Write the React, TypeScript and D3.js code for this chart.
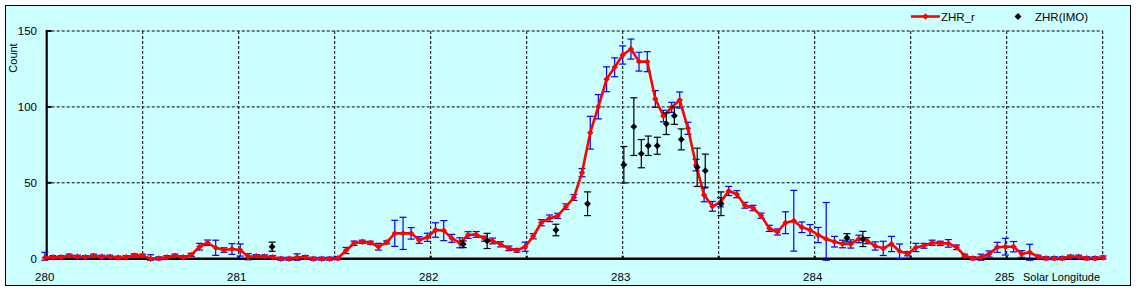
import React from 'react';
import * as d3 from 'd3';

// Solar longitude of each hourly ZHR_r value
const zhrSL = [
  279.990, 280.032, 280.075, 280.117, 280.160, 280.202, 280.244, 280.287, 280.329, 280.372,
  280.414, 280.456, 280.499, 280.541, 280.584, 280.626, 280.668, 280.711, 280.753, 280.796,
  280.838, 280.880, 280.923, 280.965, 281.008, 281.050, 281.092, 281.135, 281.177, 281.220,
  281.262, 281.304, 281.347, 281.389, 281.432, 281.474, 281.516, 281.559, 281.601, 281.644,
  281.686, 281.728, 281.771, 281.813, 281.856, 281.898, 281.940, 281.983, 282.025, 282.068,
  282.110, 282.152, 282.195, 282.237, 282.280, 282.322, 282.364, 282.407, 282.449, 282.492,
  282.534, 282.576, 282.619, 282.661, 282.704, 282.746, 282.788, 282.831, 282.873, 282.916,
  282.958, 283.000, 283.043, 283.085, 283.128, 283.170, 283.212, 283.255, 283.297, 283.340,
  283.382, 283.424, 283.467, 283.509, 283.552, 283.594, 283.636, 283.679, 283.721, 283.764,
  283.806, 283.848, 283.891, 283.933, 283.976, 284.018, 284.060, 284.103, 284.145, 284.188,
  284.230, 284.272, 284.315, 284.357, 284.400, 284.442, 284.484, 284.527, 284.569, 284.612,
  284.654, 284.696, 284.739, 284.781, 284.824, 284.866, 284.908, 284.951, 284.993, 285.036,
  285.078, 285.120, 285.163, 285.205, 285.248, 285.290, 285.332, 285.375, 285.417, 285.460,
  285.502,
];

const zhrR = [
  0.7, 1.0, 1.0, 2.0, 1.3, 1.0, 2.0, 1.3, 1.3, 0.7,
  1.0, 2.2, 2.0, 0.0, 0.2, 1.0, 2.0, 1.0, 2.5, 7.9,
  10.5, 7.2, 5.7, 6.4, 5.7, 1.3, 1.7, 1.5, 1.0, 0.0,
  0.0, 1.0, 1.0, 0.0, 0.0, 0.0, 0.3, 5.4, 10.2, 11.2,
  10.5, 7.9, 10.8, 16.7, 16.7, 16.7, 12.3, 14.1, 18.9, 18.5,
  13.4, 10.5, 15.6, 16.0, 13.2, 11.7, 9.5, 6.8, 5.5, 7.9,
  14.8, 23.7, 26.6, 28.2, 34.3, 40.3, 56.7, 83.0, 100.1, 118.2,
  126.1, 134.2, 138.1, 129.8, 129.8, 105.2, 94.0, 99.7, 104.5, 85.9,
  61.7, 42.0, 34.5, 37.2, 44.6, 42.5, 35.2, 33.4, 28.3, 20.0,
  17.6, 23.7, 25.0, 20.7, 18.9, 15.6, 13.0, 11.2, 9.7, 9.7,
  13.0, 11.9, 8.4, 6.8, 9.7, 4.9, 3.3, 7.4, 8.5, 10.5,
  10.1, 10.1, 7.5, 2.0, 0.3, 1.0, 3.1, 7.5, 7.9, 7.9,
  3.1, 4.2, 1.3, 0.3, 0.3, 0.3, 1.3, 1.3, 0.3, 0.3,
  0.8,
];

const zhrErr = [
  3.5, 1, 1, 1, 1, 1, 1, 1, 1, 1,
  1, 1, 1, 2.6, 1, 1, 1, 1, 1, 2.2,
  1.8, 5, 1.5, 3.5, 4, 2, 1, 1, 1, 1,
  1, 2.2, 1, 1, 1, 1, 1, 2, 1.4, 1,
  1, 2.2, 1, 8.6, 10.6, 3.8, 2.2, 2.7, 4.8, 6.6,
  2.6, 3.3, 2.2, 1.9, 1.7, 1.9, 1.7, 1.5, 1.2, 3,
  1.7, 2, 2.2, 1.7, 1.8, 1.9, 2.7, 10.8, 8, 8.2,
  6.2, 6, 6.6, 6.2, 6.6, 5.5, 3.8, 3.3, 5.3, 4,
  3.8, 4.5, 3.2, 3, 3, 2.3, 1.9, 1.8, 1.7, 2,
  2, 7.2, 20, 3.5, 3.6, 5, 24, 3.5, 2.5, 2.7,
  2.5, 2, 2.7, 4.7, 5, 4.8, 1.4, 2.7, 1.6, 1.7,
  1.4, 2.5, 1.5, 1, 1, 2, 2, 3.3, 5.5, 3.4,
  2.2, 5.3, 1, 1, 1, 1, 1, 1, 1, 1,
  1,
];

const imoSL = [281.174, 282.169, 282.294, 282.652, 282.817, 283.006, 283.058, 283.097, 283.133,
  283.180, 283.227, 283.269, 283.305, 283.388, 283.430, 283.512, 284.168, 284.251];
const imoZHR = [7.9, 9.5, 11.7, 18.9, 36.2, 61.9, 87.0, 69.2, 74.4, 74.4, 88.9, 94.2, 78.6, 60.2,
  58.0, 36.2, 13.8, 13.0];
const imoErr = [3, 2.2, 5, 3.8, 7.8, 12, 19, 9.3, 6.4, 5.6, 7.1, 5.7, 6.9, 12.6, 10.9, 7.8, 2.7, 5];

const xTickLabels = [280, 281, 282, 283, 284, 285];
const xGridValues = [280.5, 281, 281.5, 282, 282.5, 283, 283.5, 284, 284.5, 285, 285.5];
const yTickValues = [0, 50, 100, 150];
const yGridValues = [50, 100, 150];

const FONT = '"Liberation Sans", Arial, sans-serif';

export default function App() {
  const W = 1136;
  const H = 291;
  const x = d3.scaleLinear().domain([280, 285.5]).range([46.7, 1102.7]);
  const y = d3.scaleLinear().domain([0, 150]).range([258.7, 31]);
  const lowClip = -1;

  const lineGen = d3
    .line<number>()
    .x((_, i) => x(zhrSL[i]))
    .y((d) => y(d));

  const diamondType = (d3 as any).symbolDiamond2 || d3.symbolDiamond;
  const redMarker = d3.symbol().type(diamondType).size(26)() as string;
  const blackMarker = d3.symbol().type(diamondType).size(30)() as string;
  const cap = 3.5;

  return (
    <svg
      width={W}
      height={H}
      style={{ position: 'absolute', left: 0, top: 0, fontFamily: FONT }}
    >
      <rect x={0} y={0} width={W} height={H} fill="#ffffff" />
      <rect x={5.5} y={5.5} width={1125} height={280} fill="#CCFFFF" stroke="#000" strokeWidth={1} />

      {/* grid */}
      {yGridValues.map((v) => (
        <line key={'hg' + v} x1={x(280)} x2={x(285.5)} y1={y(v)} y2={y(v)}
          stroke="#000" strokeWidth={1} strokeDasharray="3,2" />
      ))}
      {xGridValues.map((v) => (
        <line key={'vg' + v} x1={x(v)} x2={x(v)} y1={y(150)} y2={y(0)}
          stroke="#000" strokeWidth={1} strokeDasharray="3,2" />
      ))}

      {/* axes */}
      <line x1={x(280)} x2={x(280)} y1={y(150) - 1} y2={y(0) + 1} stroke="#000" strokeWidth={2.2} />
      <line x1={x(280) - 1} x2={x(285.5) + 2} y1={y(0)} y2={y(0)} stroke="#000" strokeWidth={2.6} />
      {yGridValues.map((v) => (
        <line key={'yt' + v} x1={x(280)} x2={x(280) + 5} y1={y(v)} y2={y(v)} stroke="#000" strokeWidth={2} />
      ))}
      {xGridValues.map((v) => (
        <line key={'xt' + v} x1={x(v)} x2={x(v)} y1={y(0)} y2={y(0) - 3} stroke="#000" strokeWidth={2} />
      ))}

      {/* tick labels */}
      {yTickValues.map((v) => (
        <text key={'yl' + v} x={37} y={y(v) + 1} textAnchor="end" dominantBaseline="middle"
          fontSize={11.5} fill="#000">{v}</text>
      ))}
      {xTickLabels.map((v) => (
        <text key={'xl' + v} x={x(v) - 2} y={281} textAnchor="middle" fontSize={11.5} fill="#000">{v}</text>
      ))}
      <text x={1023} y={281} fontSize={11} fill="#000">Solar Longitude</text>
      <text transform="translate(17,58) rotate(-90)" textAnchor="middle" fontSize={11} fill="#000">Count</text>

      {/* ZHR_r error bars */}
      {zhrR.map((v, i) => {
        const cx = x(zhrSL[i]);
        const top = y(v + zhrErr[i]);
        const bot = y(Math.max(v - zhrErr[i], lowClip));
        return (
          <g key={'eb' + i} stroke="#0000FF" strokeWidth={1.2}>
            <line x1={cx} x2={cx} y1={top} y2={bot} />
            <line x1={cx - cap} x2={cx + cap} y1={top} y2={top} />
            <line x1={cx - cap} x2={cx + cap} y1={bot} y2={bot} />
          </g>
        );
      })}

      {/* ZHR_r line */}
      <path d={lineGen(zhrR) || ''} fill="none" stroke="#FF0000" strokeWidth={2.6} strokeLinejoin="round" />
      {zhrR.map((v, i) => (
        <path key={'m' + i} d={redMarker} transform={`translate(${x(zhrSL[i])},${y(v)})`} fill="#FF0000" />
      ))}

      {/* IMO */}
      {imoZHR.map((v, i) => {
        const cx = x(imoSL[i]);
        const top = y(v + imoErr[i]);
        const bot = y(Math.max(v - imoErr[i], lowClip));
        return (
          <g key={'imo' + i}>
            <g stroke="#000" strokeWidth={1.2}>
              <line x1={cx} x2={cx} y1={top} y2={bot} />
              <line x1={cx - cap} x2={cx + cap} y1={top} y2={top} />
              <line x1={cx - cap} x2={cx + cap} y1={bot} y2={bot} />
            </g>
            <path d={blackMarker} transform={`translate(${cx},${y(v)})`} fill="#000" />
          </g>
        );
      })}

      {/* legend */}
      <line x1={911} x2={940} y1={16.5} y2={16.5} stroke="#FF0000" strokeWidth={2.6} />
      <path d={redMarker} transform="translate(925.5,16.5)" fill="#FF0000" />
      <text x={941} y={20.5} fontSize={11.5} fill="#000">ZHR_r</text>
      <path d={blackMarker} transform="translate(1018,16.5)" fill="#000" />
      <text x={1035} y={20.5} fontSize={11.5} fill="#000">ZHR(IMO)</text>
    </svg>
  );
}
